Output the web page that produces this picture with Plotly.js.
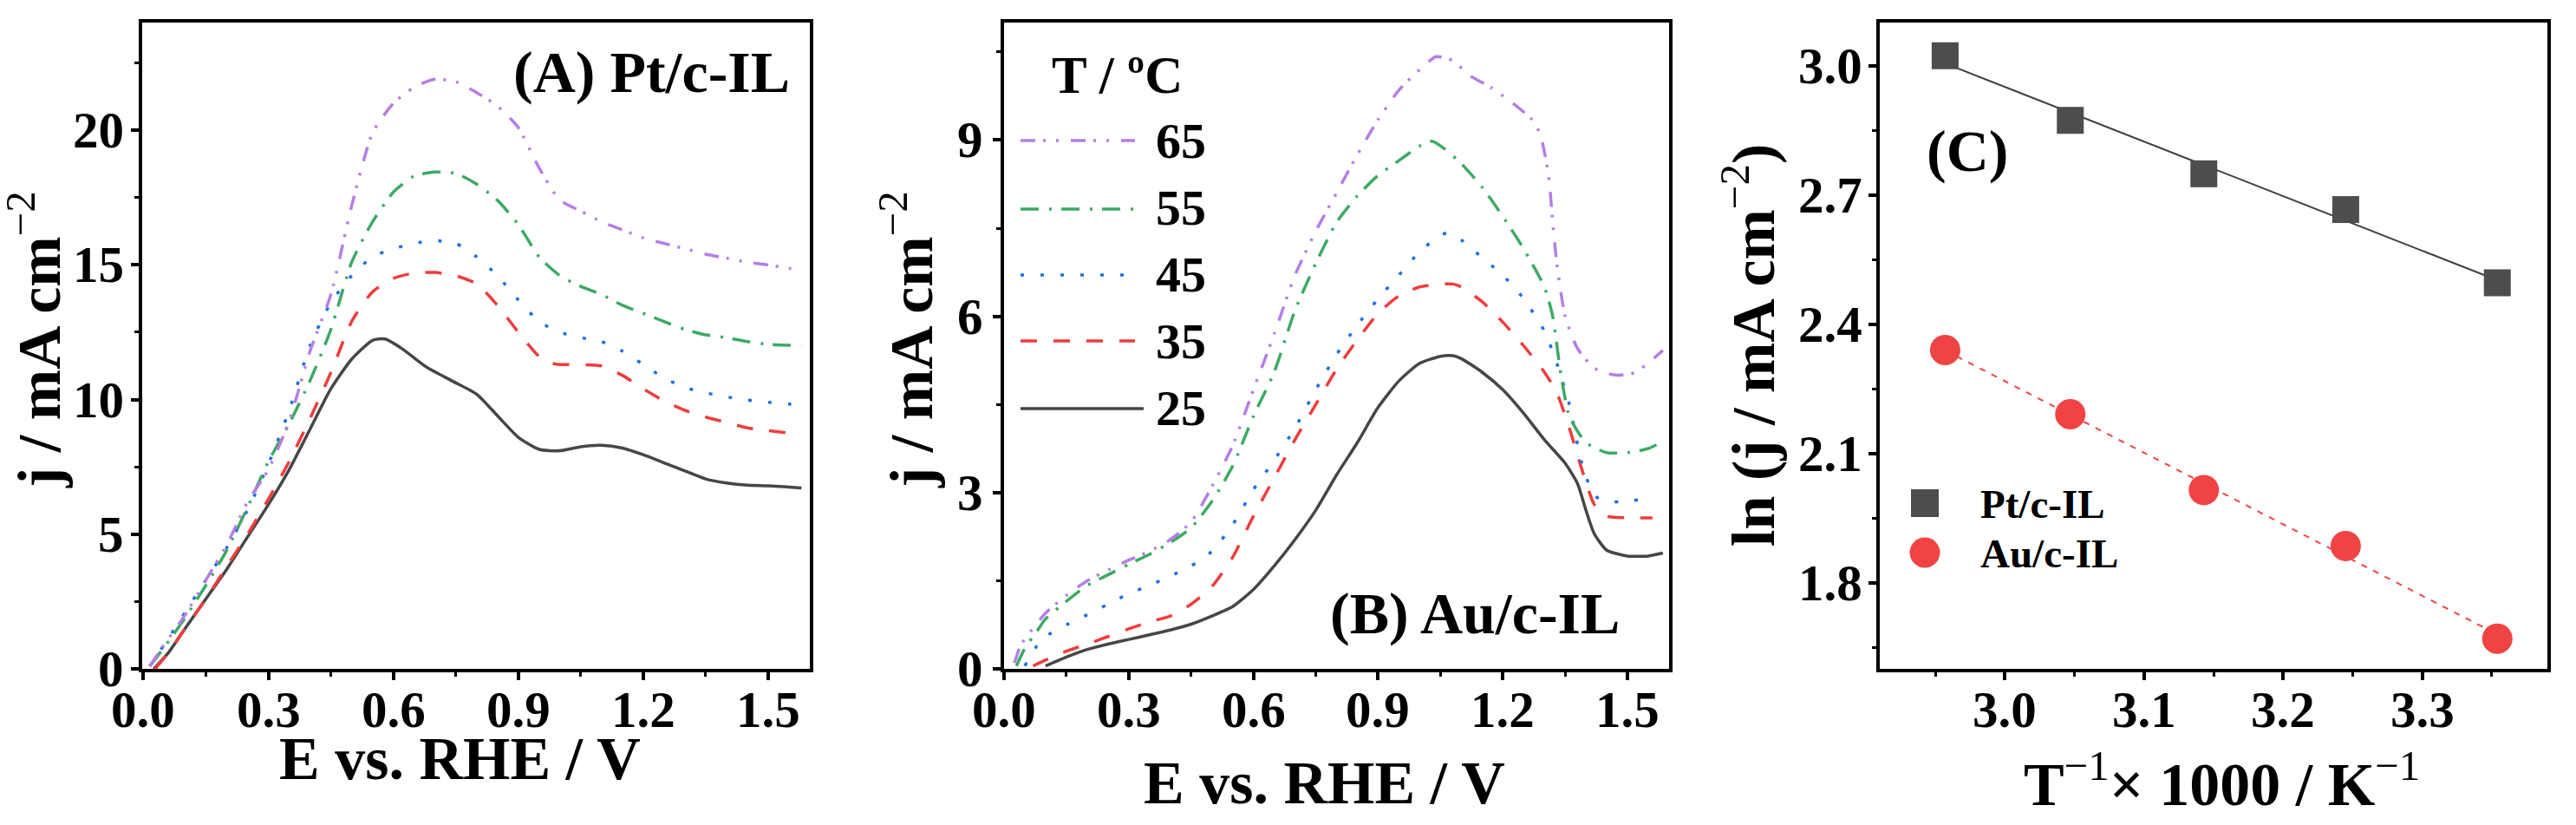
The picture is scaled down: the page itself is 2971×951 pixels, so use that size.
<!DOCTYPE html>
<html>
<head>
<meta charset="utf-8">
<script src="https://cdn.plot.ly/plotly-3.0.1.min.js"></script>
<style>html,body{margin:0;padding:0;background:#fff;}#chart{width:2971px;height:951px;}</style>
</head>
<body>
<div id="chart"></div>
<script>
// ---------- Panel A: Pt/c-IL (E vs RHE / V, j / mA cm-2) ----------
const xA25 = [0.025,0.06,0.1,0.15,0.2,0.25,0.3,0.35,0.4,0.45,0.5,0.55,0.58,0.62,0.68,0.74,0.8,0.85,0.9,0.95,1.0,1.05,1.1,1.15,1.2,1.25,1.3,1.35,1.4,1.45,1.5,1.58];
const yA25 = [0,0.6,1.5,2.6,3.7,4.9,6.1,7.4,8.9,10.4,11.5,12.2,12.25,11.9,11.2,10.7,10.2,9.4,8.6,8.15,8.1,8.25,8.3,8.2,7.95,7.65,7.35,7.05,6.9,6.82,6.8,6.72];
const xA35 = [0.028,0.06,0.1,0.15,0.2,0.25,0.3,0.35,0.4,0.45,0.5,0.55,0.6,0.65,0.7,0.75,0.8,0.85,0.9,0.95,0.98,1.0,1.05,1.1,1.15,1.2,1.25,1.3,1.35,1.4,1.45,1.5,1.58];
const yA35 = [0,0.6,1.5,2.6,3.8,5.0,6.3,7.7,9.3,11.0,12.9,14.0,14.5,14.7,14.72,14.6,14.3,13.5,12.5,11.6,11.35,11.3,11.3,11.25,10.9,10.4,9.95,9.6,9.35,9.15,8.95,8.85,8.7];
const xA45 = [0.015,0.05,0.1,0.15,0.2,0.25,0.3,0.35,0.4,0.45,0.5,0.55,0.6,0.65,0.7,0.75,0.8,0.85,0.9,0.95,1.0,1.05,1.1,1.15,1.2,1.25,1.3,1.35,1.4,1.45,1.5,1.575];
const yA45 = [0.1,0.9,2.1,3.3,4.5,5.9,7.6,9.6,12.0,13.6,14.6,15.3,15.6,15.8,15.9,15.8,15.3,14.6,13.7,12.9,12.5,12.3,12.15,11.8,11.3,10.8,10.45,10.25,10.1,9.98,9.9,9.8];
const xA55 = [0.015,0.05,0.1,0.15,0.2,0.25,0.3,0.35,0.4,0.45,0.5,0.55,0.6,0.65,0.7,0.75,0.8,0.85,0.9,0.95,1.0,1.05,1.1,1.15,1.2,1.25,1.3,1.35,1.4,1.45,1.5,1.58];
const yA55 = [0.1,0.8,1.9,3.1,4.4,6.0,7.7,9.1,10.7,12.6,15.1,16.6,17.7,18.3,18.45,18.4,18.0,17.4,16.5,15.3,14.6,14.2,13.9,13.5,13.2,12.9,12.6,12.4,12.3,12.15,12.05,12.0];
const xA65 = [0.015,0.05,0.1,0.15,0.2,0.25,0.3,0.35,0.4,0.45,0.5,0.55,0.6,0.65,0.7,0.75,0.8,0.85,0.9,0.95,1.0,1.05,1.1,1.15,1.2,1.25,1.3,1.35,1.4,1.45,1.5,1.58];
const yA65 = [0.1,0.9,2.0,3.3,4.6,6.2,7.4,9.2,11.8,13.9,17.2,19.9,21.0,21.6,21.9,21.8,21.4,20.9,20.1,18.6,17.4,17.0,16.6,16.3,16.0,15.8,15.6,15.4,15.25,15.1,15.0,14.8];

// ---------- Panel B: Au/c-IL ----------
const xB25 = [0.1,0.15,0.2,0.25,0.3,0.35,0.4,0.45,0.5,0.55,0.6,0.65,0.7,0.75,0.8,0.85,0.9,0.95,1.0,1.05,1.08,1.1,1.15,1.2,1.25,1.3,1.35,1.38,1.4,1.42,1.45,1.5,1.55,1.585];
const yB25 = [0.05,0.2,0.33,0.42,0.5,0.58,0.66,0.76,0.9,1.06,1.35,1.75,2.2,2.7,3.3,3.85,4.45,4.9,5.2,5.32,5.33,5.28,5.05,4.75,4.35,3.9,3.5,3.15,2.7,2.3,2.02,1.92,1.92,1.97];
const xB35 = [0.07,0.1,0.15,0.2,0.25,0.3,0.35,0.4,0.45,0.5,0.55,0.6,0.65,0.7,0.75,0.8,0.85,0.9,0.95,1.0,1.05,1.08,1.1,1.15,1.2,1.25,1.3,1.33,1.36,1.39,1.42,1.45,1.5,1.56];
const yB35 = [0.05,0.15,0.3,0.42,0.55,0.68,0.8,0.9,1.1,1.4,1.9,2.6,3.25,3.9,4.5,5.1,5.6,6.05,6.35,6.5,6.55,6.55,6.5,6.25,5.9,5.5,5.05,4.7,4.1,3.4,2.8,2.6,2.57,2.57];
const xB45 = [0.05,0.08,0.1,0.15,0.2,0.25,0.3,0.35,0.4,0.45,0.5,0.55,0.6,0.65,0.7,0.75,0.8,0.85,0.9,0.95,1.0,1.05,1.07,1.1,1.15,1.2,1.25,1.3,1.33,1.36,1.39,1.42,1.45,1.5,1.56];
const yB45 = [0.05,0.4,0.55,0.75,0.92,1.1,1.28,1.42,1.58,1.75,2.0,2.45,3.05,3.55,4.1,4.75,5.35,5.85,6.3,6.7,7.1,7.38,7.42,7.3,7.0,6.7,6.3,5.75,5.2,4.5,3.5,2.95,2.85,2.85,2.93];
const xB55 = [0.03,0.05,0.08,0.1,0.15,0.2,0.25,0.3,0.35,0.4,0.45,0.5,0.55,0.6,0.65,0.7,0.75,0.8,0.85,0.9,0.95,1.0,1.03,1.06,1.1,1.15,1.2,1.25,1.3,1.32,1.34,1.36,1.4,1.45,1.5,1.55,1.585];
const yB55 = [0.05,0.35,0.65,0.85,1.15,1.42,1.6,1.78,1.95,2.15,2.4,2.85,3.45,4.3,5.05,6.1,6.9,7.6,8.05,8.4,8.65,8.9,8.98,8.85,8.6,8.2,7.7,7.15,6.5,6.0,5.0,4.3,3.85,3.68,3.68,3.75,3.87];
const xB65 = [0.025,0.04,0.06,0.1,0.15,0.2,0.25,0.3,0.35,0.4,0.45,0.5,0.55,0.6,0.65,0.7,0.75,0.8,0.85,0.9,0.95,1.0,1.04,1.08,1.12,1.17,1.22,1.27,1.29,1.31,1.32,1.33,1.35,1.38,1.42,1.47,1.52,1.585];
const yB65 = [0.1,0.4,0.6,0.95,1.25,1.5,1.68,1.85,2.0,2.2,2.5,3.1,3.8,4.75,5.7,6.7,7.45,8.1,8.75,9.35,9.85,10.2,10.42,10.35,10.1,9.9,9.65,9.35,9.1,8.4,7.6,6.9,6.0,5.45,5.12,5.0,5.05,5.42];

// ---------- Panel C: Arrhenius plot ----------
const invT1000 = [2.957, 3.047, 3.143, 3.245, 3.354];
const lnJPt = [3.023, 2.873, 2.749, 2.666, 2.496];
const lnJAu = [2.340, 2.191, 2.015, 1.885, 1.670];
const fitX = [2.957, 3.354];
const fitPt = [3.005, 2.502];
const fitAu = [2.339, 1.680];

// ---------- tick labels ----------
const xTickVals = [0, 0.3, 0.6, 0.9, 1.2, 1.5];
const xTickText = ['0.0', '0.3', '0.6', '0.9', '1.2', '1.5'];
const yTickValsA = [0, 5, 10, 15, 20];
const yTickTextA = ['0', '5', '10', '15', '20'];
const yTickValsB = [0, 3, 6, 9];
const yTickTextB = ['0', '3', '6', '9'];
const xTickValsC = [3.0, 3.1, 3.2, 3.3];
const xTickTextC = ['3.0', '3.1', '3.2', '3.3'];
const yTickValsC = [1.8, 2.1, 2.4, 2.7, 3.0];
const yTickTextC = ['1.8', '2.1', '2.4', '2.7', '3.0'];

const tempLabels = ['65','55','45','35','25'];
const seriesNames = ['Pt/c-IL','Au/c-IL'];

// ---------- styles ----------
const FONT = 'Liberation Serif, Times New Roman, serif';
const colors = {'65':'#b57ee6','55':'#3caa64','45':'#1f6fe3','35':'#f03c3c','25':'#464646'};
const dashes = {'65':'17px,9px,3px,12px,3px,14px','55':'21px,12px,3px,11px','45':'4px,19px','35':'19px,19px','25':'solid'};
const LW = 3.5;

const dataA = {'25':[xA25,yA25],'35':[xA35,yA35],'45':[xA45,yA45],'55':[xA55,yA55],'65':[xA65,yA65]};
const dataB = {'25':[xB25,yB25],'35':[xB35,yB35],'45':[xB45,yB45],'55':[xB55,yB55],'65':[xB65,yB65]};

const traces = [];
['25','35','45','55','65'].forEach(t => {
  traces.push({x:dataA[t][0], y:dataA[t][1], xaxis:'x', yaxis:'y', mode:'lines', line:{color:colors[t], width:LW, dash:dashes[t], shape:'spline', smoothing:0.6}, name:t+' A', showlegend:false, hoverinfo:'skip'});
  traces.push({x:dataB[t][0], y:dataB[t][1], xaxis:'x2', yaxis:'y2', mode:'lines', line:{color:colors[t], width:LW, dash:dashes[t], shape:'spline', smoothing:0.6}, name:t+' B', showlegend:false, hoverinfo:'skip'});
});
traces.push({x:fitX, y:fitPt, xaxis:'x3', yaxis:'y3', mode:'lines', line:{color:'#404040', width:2}, showlegend:false, hoverinfo:'skip'});
traces.push({x:fitX, y:fitAu, xaxis:'x3', yaxis:'y3', mode:'lines', line:{color:'#f04444', width:2, dash:'7px,8px'}, showlegend:false, hoverinfo:'skip'});
traces.push({x:invT1000, y:lnJPt, xaxis:'x3', yaxis:'y3', mode:'markers', marker:{symbol:'square', size:31, color:'#4d4d4d'}, name:seriesNames[0], showlegend:false});
traces.push({x:invT1000, y:lnJAu, xaxis:'x3', yaxis:'y3', mode:'markers', marker:{symbol:'circle', size:35, color:'#f04444'}, name:seriesNames[1], showlegend:false});

const W = 2971, H = 951;
const PX = (p) => p / W;          // pixel -> paper x
const PY = (p) => 1 - p / H;      // pixel -> paper y
const yDom = [PY(771), PY(26)];
const TICK = 59;
function axis(domain, range, dtick, minorDtick, tick0) {
  return {
    domain: domain, range: range, dtick: dtick, tick0: tick0,
    showline: true, mirror: true, linecolor: '#000', linewidth: 4,
    ticks: 'outside', ticklen: 9, tickwidth: 4, tickcolor: '#000',
    minor: {ticks:'outside', ticklen:5, tickwidth:3, tickcolor:'#000', dtick:minorDtick, tick0:tick0},
    showgrid: false, zeroline: false, showticklabels: false,
    fixedrange: true
  };
}
const layout = {
  width: W, height: H,
  margin: {l:0, r:0, t:0, b:0},
  paper_bgcolor: '#fff', plot_bgcolor: '#fff',
  showlegend: false,
  xaxis:  Object.assign(axis([PX(164), PX(934)], [-0.003, 1.6], 0.3, 0.15, 0), {anchor:'y'}),
  yaxis:  Object.assign(axis(yDom, [0, 24], 5, 2.5, 0), {anchor:'x'}),
  xaxis2: Object.assign(axis([PX(1158), PX(1925)], [0, 1.6], 0.3, 0.15, 0), {anchor:'y2'}),
  yaxis2: Object.assign(axis(yDom, [0, 11], 3, 1.5, 0), {anchor:'x2'}),
  xaxis3: Object.assign(axis([PX(2168), PX(2938)], [2.91, 3.39], 0.1, 0.05, 3.0), {anchor:'y3'}),
  yaxis3: Object.assign(axis(yDom, [1.6, 3.1], 0.3, 0.15, 1.8), {anchor:'x3'}),
  shapes: [],
  annotations: []
};

const tf = (size) => ({family: FONT, size: size, color: '#000', weight: 700});
const sup = (s) => '<sup><span style="font-weight:normal">' + s + '</span></sup>';
const A = layout.annotations;

// tick labels (placed through the axes' own scales)
function xLabels(xr, yr, vals, texts) {
  vals.forEach((v, i) => A.push({xref:xr, yref:yr + ' domain', x:v, y:0, xanchor:'center', yanchor:'top', yshift:-12, showarrow:false, text:texts[i], font:tf(TICK)}));
}
function yLabels(xr, yr, vals, texts, shift) {
  vals.forEach((v, i) => A.push({xref:xr + ' domain', yref:yr, x:0, y:v, xanchor:'right', yanchor:'middle', xshift:shift, showarrow:false, text:texts[i], font:tf(TICK)}));
}
xLabels('x', 'y', xTickVals, xTickText);
xLabels('x2', 'y2', xTickVals, xTickText);
xLabels('x3', 'y3', xTickValsC, xTickTextC);
yLabels('x', 'y', yTickValsA, yTickTextA, -19);
yLabels('x2', 'y2', yTickValsB, yTickTextB, -22);
yLabels('x3', 'y3', yTickValsC, yTickTextC, -18);

// axis titles
const TT = 70;
A.push({xref:'paper', yref:'paper', x:PX(530), y:PY(915), xanchor:'center', yanchor:'bottom', showarrow:false, text:'E vs. RHE / V', font:tf(TT)});
A.push({xref:'paper', yref:'paper', x:PX(1527), y:PY(943), xanchor:'center', yanchor:'bottom', showarrow:false, text:'E vs. RHE / V', font:tf(TT)});
A.push({xref:'paper', yref:'paper', x:PX(2562), y:PY(945), xanchor:'center', yanchor:'bottom', showarrow:false, text:'T' + sup('−1') + '× 1000 / K' + sup('−1'), font:tf(TT)});
A.push({xref:'paper', yref:'paper', x:PX(86), y:PY(392), xanchor:'right', yanchor:'middle', textangle:-90, showarrow:false, text:'j / mA cm' + sup('−2'), font:tf(TT)});
A.push({xref:'paper', yref:'paper', x:PX(1092), y:PY(392), xanchor:'right', yanchor:'middle', textangle:-90, showarrow:false, text:'j / mA cm' + sup('−2'), font:tf(TT)});
A.push({xref:'paper', yref:'paper', x:PX(2063), y:PY(398), xanchor:'right', yanchor:'middle', textangle:-90, showarrow:false, text:'ln (j / mA cm' + sup('−2') + ')', font:tf(TT)});

// panel labels
A.push({xref:'paper', yref:'paper', x:PX(913), y:PY(123), xanchor:'right', yanchor:'bottom', showarrow:false, text:'(A) Pt/c-IL', font:tf(68)});
A.push({xref:'paper', yref:'paper', x:PX(1870), y:PY(747), xanchor:'right', yanchor:'bottom', showarrow:false, text:'(B) Au/c-IL', font:tf(68)});
A.push({xref:'paper', yref:'paper', x:PX(2269), y:PY(214), xanchor:'center', yanchor:'bottom', showarrow:false, text:'(C)', font:tf(68)});

// legend of panel B
A.push({xref:'paper', yref:'paper', x:PX(1288), y:PY(122), xanchor:'center', yanchor:'bottom', showarrow:false, text:'T / ºC', font:tf(61)});
const legLineY = [162, 241, 317, 393, 471];
const legTextBase = [182, 259, 336, 413, 490];
tempLabels.forEach((t, i) => {
  layout.shapes.push({type:'line', xref:'paper', yref:'paper', x0:PX(1177), x1:PX(t==='25'?1319:1309), y0:PY(legLineY[i]), y1:PY(legLineY[i]), line:{color:colors[t], width:LW, dash:dashes[t]}});
  A.push({xref:'paper', yref:'paper', x:PX(1331), y:PY(legTextBase[i] + 0.216*58 + 2), xanchor:'left', yanchor:'bottom', showarrow:false, text:t, font:tf(58)});
});

// legend of panel C
layout.shapes.push({type:'rect', xref:'paper', yref:'paper', xsizemode:'pixel', ysizemode:'pixel', xanchor:PX(2220), yanchor:PY(580), x0:-16, x1:16, y0:-16, y1:16, fillcolor:'#4d4d4d', line:{width:0}});
layout.shapes.push({type:'circle', xref:'paper', yref:'paper', xsizemode:'pixel', ysizemode:'pixel', xanchor:PX(2220), yanchor:PY(637), x0:-17.5, x1:17.5, y0:-17.5, y1:17.5, fillcolor:'#f04444', line:{width:0}});
A.push({xref:'paper', yref:'paper', x:PX(2282), y:PY(597 + 12), xanchor:'left', yanchor:'bottom', showarrow:false, text:seriesNames[0], font:tf(47)});
A.push({xref:'paper', yref:'paper', x:PX(2282), y:PY(654 + 12), xanchor:'left', yanchor:'bottom', showarrow:false, text:seriesNames[1], font:tf(47)});

Plotly.newPlot('chart', traces, layout, {displayModeBar:false, staticPlot:true});
</script>
</body>
</html>
